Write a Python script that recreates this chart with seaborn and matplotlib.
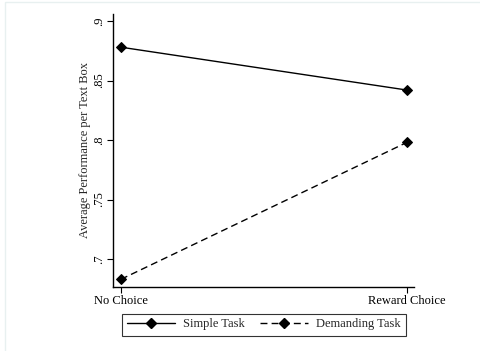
import matplotlib
matplotlib.use("Agg")
import matplotlib.pyplot as plt
import seaborn as sns
import pandas as pd
from matplotlib.lines import Line2D
from matplotlib.patches import Rectangle

# Data
conditions = ["No Choice", "Reward Choice"]
simple_task = [0.878, 0.842]
demanding_task = [0.683, 0.798]
series_names = ["Simple Task", "Demanding Task"]
y_ticks = [0.7, 0.75, 0.8, 0.85, 0.9]
y_tick_labels = [".7", ".75", ".8", ".85", ".9"]

df = pd.DataFrame({
    "condition": conditions * 2,
    "value": simple_task + demanding_task,
    "task": [series_names[0]] * 2 + [series_names[1]] * 2,
})

sns.set_theme(style="white")
plt.rcParams["font.family"] = ["Liberation Serif", "DejaVu Serif"]

fig = plt.figure(figsize=(4.8, 3.51), dpi=100)
ax = fig.add_axes([113 / 480, 1 - 287 / 351, (414 - 113) / 480, (287 - 14) / 351])

sns.lineplot(
    data=df, x="condition", y="value", hue="task", style="task",
    palette=["black", "black"], markers=["D", "D"],
    dashes=["", (5, 3)], markersize=5, linewidth=1.0,
    markeredgecolor="black", legend=False, ax=ax,
)

ax.set_xlim(-0.028, 1.025)
ax.set_ylim(0.6765, 0.9059)
ax.set_yticks(y_ticks)
ax.set_yticklabels(y_tick_labels, rotation=90, va="center", fontsize=9)
ax.set_xticks([0, 1])
ax.set_xticklabels(conditions, fontsize=9)
ax.set_xlabel("")
ax.set_ylabel("Average Performance per Text Box", fontsize=9, labelpad=1)

for side in ["top", "right"]:
    ax.spines[side].set_visible(False)
for side in ["left", "bottom"]:
    ax.spines[side].set_color("black")
    ax.spines[side].set_linewidth(1.0)
ax.tick_params(axis="both", which="major", length=4, width=0.8, color="black",
               direction="out", left=True, bottom=True, labelcolor="black", pad=2)

handles = [
    Line2D([], [], color="black", lw=1.0, marker="D", markersize=5, markevery=[1]),
    Line2D([], [], color="black", lw=1.0, ls=(0, (5, 3)), marker="D", markersize=5, markevery=[1]),
]
for h in handles:
    h.set_xdata([0, 0.5, 1])
leg = fig.legend(
    handles, series_names, loc="center", bbox_to_anchor=(264 / 480, 1 - 324.5 / 351),
    ncol=2, frameon=True, fancybox=False, fontsize=9, handlelength=3.8,
    columnspacing=1.2, handletextpad=0.7, borderpad=0.4,
)
leg.get_frame().set_edgecolor("black")
leg.get_frame().set_linewidth(0.8)

# faint outer frame of the graph region
fig.patches.append(Rectangle((5 / 480, -0.01), 1.0, 1 - 1.5 / 351 + 0.01, transform=fig.transFigure,
                             fill=False, edgecolor="#e8f0f0", linewidth=1.0))

fig.savefig("out.png", dpi=100)
